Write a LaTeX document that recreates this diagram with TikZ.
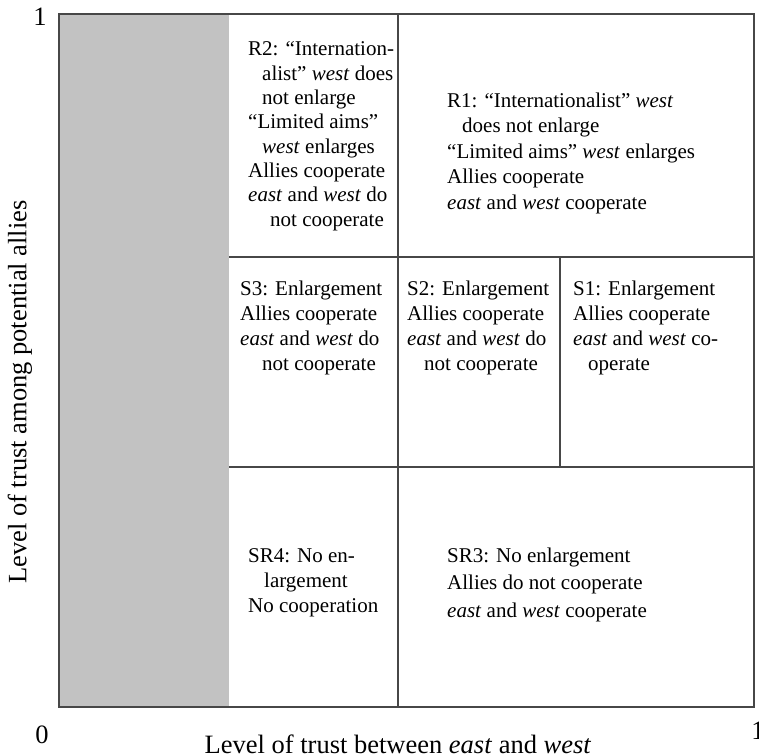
\documentclass[tikz,border=0pt]{standalone}
\usepackage{fontspec}
\setmainfont{Liberation Serif}
\begin{document}
\begin{tikzpicture}[x=1pt,y=-1pt,
  frame/.style={draw=black!72, line width=2.4pt},
  divider/.style={draw=black!72, line width=1.8pt},
  cell/.style={anchor=base west, inner sep=0pt, align=left},
  axislabel/.style={font=\fontsize{26.5}{30}\selectfont, inner sep=0pt}]
\useasboundingbox (0,0) rectangle (759,755);
\fill[white] (0,0) rectangle (759,755);
% corners and dividers
\coordinate (tl) at (59,14);
\coordinate (br) at (754,707);
\fill[black!24] (tl) rectangle (229,707);
\draw[divider] (229,257) -- (754,257);
\draw[divider] (229,467) -- (754,467);
\draw[divider] (398,14) -- (398,707);
\draw[divider] (560,257) -- (560,467);
\draw[frame] (tl) rectangle (br);
% cell texts (anchored at the baseline of the last line)
\node[cell, font=\fontsize{21}{24.3}\selectfont] (r2) at (248,226) {R2: “Internation-\\\hspace*{14pt}alist” \textit{west} does\\\hspace*{14pt}not enlarge\\“Limited aims”\\\hspace*{14pt}\textit{west} enlarges\\Allies cooperate\\\textit{east} and \textit{west} do\\\hspace*{22pt}not cooperate};
\node[cell, font=\fontsize{21}{25.5}\selectfont] (r1) at (447,209) {R1: “Internationalist” \textit{west}\\\hspace*{15pt}does not enlarge\\“Limited aims” \textit{west} enlarges\\Allies cooperate\\\textit{east} and \textit{west} cooperate};
\node[cell, font=\fontsize{21}{25}\selectfont] (s3) at (240,370) {S3: Enlargement\\Allies cooperate\\\textit{east} and \textit{west} do\\\hspace*{22pt}not cooperate};
\node[cell, font=\fontsize{21}{25}\selectfont] (s2) at (407,370) {S2: Enlargement\\Allies cooperate\\\textit{east} and \textit{west} do\\\hspace*{17pt}not cooperate};
\node[cell, font=\fontsize{21}{25}\selectfont] (s1) at (573,370) {S1: Enlargement\\Allies cooperate\\\textit{east} and \textit{west} co-\\\hspace*{15pt}operate};
\node[cell, font=\fontsize{21}{25}\selectfont] (sr4) at (248,612) {SR4: No en-\\\hspace*{16pt}largement\\No cooperation};
\node[cell, font=\fontsize{21}{27.5}\selectfont] (sr3) at (447,617) {SR3: No enlargement\\Allies do not cooperate\\\textit{east} and \textit{west} cooperate};
% axes labels
\node[axislabel] (one) at (40,17) {1};
\node[axislabel] (zero) at (42,735) {0};
\node[axislabel] (oneright) at (758,731) {1};
\node[axislabel] (xlab) at (398,744) {Level of trust between \textit{east} and \textit{west}};
\node[axislabel, rotate=90] (ylab) at (20,392) {Level of trust among potential allies};
\end{tikzpicture}
\end{document}
